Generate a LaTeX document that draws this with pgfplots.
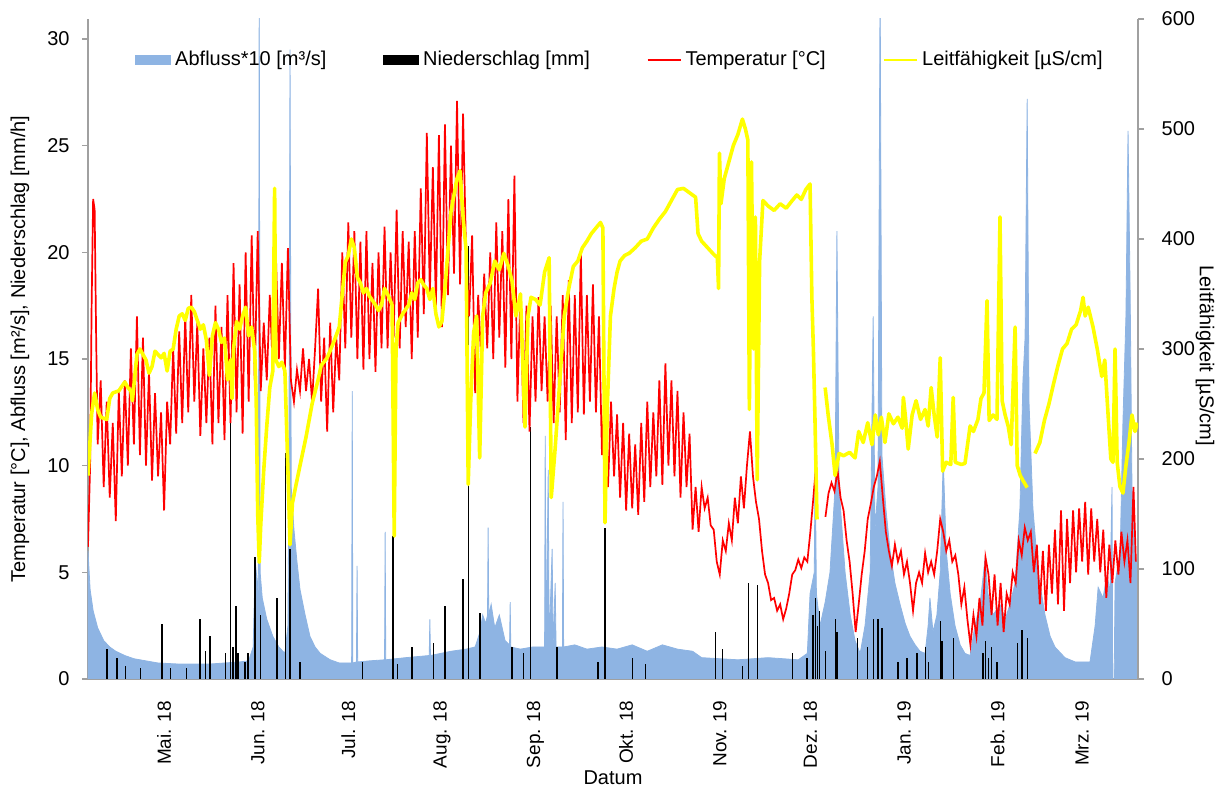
\documentclass[border=0pt]{standalone}
\usepackage{pgfplots}
\pgfplotsset{compat=1.18}
\usepackage{fontspec}
\setmainfont{Liberation Sans}
\definecolor{abfluss}{RGB}{142,180,227}
\definecolor{axisgray}{RGB}{160,160,160}
\definecolor{leit}{RGB}{255,255,0}
\begin{document}
\begin{tikzpicture}[font=\fontsize{10}{12}\selectfont]
\begin{axis}[
  at={(0,0)}, anchor=south west,
  scale only axis, width=525pt, height=330pt,
  xmin=-25.2, xmax=322.5, ymin=0, ymax=30.94,
  axis x line*=bottom, axis y line*=left,
  axis line style={axisgray, line width=0.6pt},
  xtick={0,31,61,92,123,153,184,214,245,276,304},
  xticklabels={Mai. 18, Jun. 18, Jul. 18, Aug. 18, Sep. 18, Okt. 18, Nov. 19, Dez. 18, Jan. 19, Feb. 19, Mrz. 19},
  xtick style={draw=none},
  xticklabel style={rotate=90, anchor=east, font=\fontsize{9.5}{11}\selectfont},
  xticklabel shift=4.4pt,
  ytick={0,5,...,30},
  ytick style={axisgray, line width=0.6pt},
  tick align=outside, major tick length=3pt,
  yticklabel shift=2.7pt,
  /pgf/number format/assume math mode=true,
  every axis y label/.style={at={(axis description cs:0,0.5)}, xshift=-34pt, rotate=90, anchor=center},
  every axis x label/.style={at={(axis description cs:0.5,0)}, yshift=-49.5pt, anchor=center},
  xlabel={Datum},
  ylabel={Temperatur [°C], Abfluss [m²/s], Niederschlag [mm/h]},
  legend columns=4,
  legend cell align=left,
  legend style={draw=none, fill=none, inner sep=0pt, at={(axis description cs:0.0448,0.938)}, anchor=west,
    /tikz/every even column/.append style={column sep=26.5pt}},
  unbounded coords=jump,
]
\addlegendimage{legend image code/.code={\fill[abfluss] (0pt,-2.2pt) rectangle (17.5pt,2.2pt);}}
\addlegendentry{Abfluss*10 [m³/s]}
\addlegendimage{legend image code/.code={\fill[black] (0pt,-2.2pt) rectangle (17.5pt,2.2pt);}}
\addlegendentry{Niederschlag [mm]}
\addlegendimage{legend image code/.code={\draw[red, line width=0.8pt] (0pt,0pt) -- (16.5pt,0pt);}}
\addlegendentry{Temperatur [°C]}
\addlegendimage{legend image code/.code={\draw[leit, line width=1.2pt] (0pt,0pt) -- (16.5pt,0pt);}}
\addlegendentry{Leitfähigkeit [µS/cm]}

% Abfluss*10
\addplot[forget plot, fill=abfluss, draw=abfluss, line width=0.4pt] coordinates {
(-25.2,6.0) (-24.5,4.2) (-23.5,3.2) (-22,2.4) (-20,1.8) (-18,1.5) (-16,1.3) (-13,1.1) (-10,0.95) (-6,0.85) (-2,0.75) (5,0.7) (15,0.7) (25,0.8) (28,0.85) (29.5,1.5) (30.2,5.5) (31.2,4) (31.5,33) (31.8,5) (32.5,3.8) (34,2.8) (36,2) (38,1.5) (40,1.2) (41,2.5) (41.3,8.5) (41.7,29.5) (42.1,9) (43,7) (44,5.5) (45,4.2) (46.7,3) (48.3,2) (50,1.5) (51.7,1.2) (55,0.9) (58,0.75) (62.1,0.75) (62.3,13.5) (62.5,0.75) (63.7,0.8) (63.9,5.3) (64.1,0.8) (68,0.85) (73,0.9) (73.2,6.9) (73.4,0.9) (80,1.0) (87.8,1.1) (88,2.8) (88.2,1.1) (95,1.3) (100,1.4) (103,1.5) (104.6,2.2) (105.5,3) (106.5,2.6) (107.1,3) (107.3,7.1) (107.5,3) (108.3,3.5) (109.5,2.4) (111,3) (112.9,1.8) (114.4,1.6) (114.6,3.6) (114.8,1.5) (118,1.4) (122,1.5) (126,1.5) (126.2,11.4) (126.5,1.6) (127.2,9.8) (127.5,1.6) (128.5,6.1) (128.8,1.5) (129.5,4.5) (129.8,1.5) (131.9,1.5) (132.1,8.3) (132.3,1.5) (136,1.6) (140,1.4) (145,1.5) (150,1.4) (155,1.6) (160,1.3) (165,1.6) (170,1.4) (175,1.3) (178,1.0) (190,0.9) (200,1.0) (210,0.9) (213,1.2) (213.9,4) (215.3,5) (215.6,10.5) (216,4) (217.2,2.5) (218.9,3.6) (220.5,5) (222.2,9) (222.8,21) (223.5,9) (225.5,5) (227.2,3) (228.8,1.8) (230.5,1.2) (232.1,2.5) (233.8,5) (234.8,17) (235.4,7) (236.4,9) (237.1,33) (237.7,10.5) (239,8) (240.4,6) (242,4.5) (243.7,3.5) (245.4,2.6) (247,2) (248.7,1.6) (250.3,1.3) (252,1.2) (253,2.5) (253.6,3.8) (254.6,2.2) (255.9,3) (257,5) (258,10.3) (259,6) (260.3,4) (261.9,2.5) (263.6,1.6) (265.2,1.2) (266.9,1.1) (268.5,2.5) (270.2,3.5) (271.9,5.7) (272.8,4) (274.5,3) (276.8,3.5) (278.5,2.8) (280.1,3.5) (281.8,4.5) (283.4,8) (284.4,14) (285.1,16) (285.8,27.2) (286.4,13) (287.7,8) (289.4,5) (291.7,3) (293.4,2) (295,1.5) (298.3,1) (301.7,0.8) (306.6,0.8) (308.3,2.5) (309.3,4.3) (310.9,3.8) (312.3,4.9) (313.2,4) (313.9,9) (314.1,0) (314.6,0) (314.9,4.5) (316.6,6) (317.5,12) (318.5,17) (319.2,25.7) (319.9,18) (320.5,9) (321.5,6) (322.5,5)
} \closedcycle;

% Niederschlag
\addplot[forget plot, ycomb, black, line width=0.6pt, mark=none] coordinates {
(-18.9,1.4) (-15.6,1.0) (-12.9,0.6) (-7.9,0.5) (-0.7,2.6) (2,0.5) (7.3,0.5) (11.9,2.8) (13.6,1.3) (15.2,2.0) (20.2,1.2) (21.9,12) (22.8,1.5) (23.8,3.4) (24.5,1.2) (26.8,0.8) (27.8,1.2) (30.1,5.7) (31.8,3) (37.4,3.8) (40.1,10.6) (41.7,6.1) (45,0.8) (65.6,0.8) (75.8,6.7) (77.2,0.7) (82.1,1.5) (89.1,1.7) (93,3.4) (99,4.7) (100.7,20.3) (104.6,3.1) (115.2,1.5) (118.9,1.2) (121.2,11.8) (130.1,1.5) (143.7,0.8) (146,7.1) (155,1.0) (159.3,0.7) (182.5,2.2) (184.8,1.4) (191.4,0.6) (193.4,4.5) (196.4,4.4) (208,1.2) (212.9,1.0) (214.9,3.0) (215.6,3.8) (216.3,2.5) (217,3.2) (218.9,1.3) (222.2,2.8) (222.8,2.2) (229.5,1.9) (232.8,1.5) (234.8,2.8) (236.4,2.8) (237.7,2.4) (243,0.8) (246,1.0) (249.3,1.2) (252,1.5) (253,0.8) (257,2.7) (257.6,1.8) (261.3,1.9) (271.2,1.2) (272,1.8) (273,1.0) (274,1.5) (275.8,0.8) (282.5,1.7) (284.1,2.3) (285.8,1.9)
};

% Temperatur
\addplot[forget plot, red, line width=0.85pt, mark=none] coordinates {
(-25.2,6.2) (-24.5,10) (-24,17.5) (-23.5,22.5) (-23,22) (-22.5,16) (-22,11) (-21,14) (-20,9) (-19,13) (-18,8.5) (-17,12) (-16,7.4) (-15,13.5) (-14,9.5) (-13,14) (-12,10) (-11,15.5) (-10,11) (-9,17) (-8,10.5) (-7,16) (-6,10) (-5,14.4) (-4,9.3) (-3,13.4) (-2,9.5) (-1,12.5) (0,7.9) (1,13) (2,11) (3,15.5) (4,11.5) (5,16.3) (6,12) (7,17) (8,12.5) (9,18) (10,13) (11,16.7) (12,11.4) (13,15.5) (14,12) (15,16) (16,11) (17,17.5) (18,12) (19,16.5) (20,11.2) (21,18) (22,12) (23,19.5) (24,12.5) (25,18.5) (26,11.5) (27,20) (28,13) (29,20.8) (30,14) (31,21) (32,13.5) (33,16.7) (34,14) (35,18) (36,14.5) (37,20) (38,15) (39,19.5) (40,14.5) (41,20.2) (42,14) (43,13) (44,14.5) (45,13.5) (46,15.5) (47,13.5) (48,15) (49,13) (50,15.5) (51,18.3) (52,13) (53,16) (54,11.6) (55,16.7) (56,12.5) (57,16) (58,14) (59,20) (60,15.5) (61,21.4) (62,16) (63,21) (64,15) (65,20.5) (66,14.5) (67,21) (68,15) (69,19.5) (70,14.4) (71,20) (72,15.5) (73,21.2) (74,15.5) (75,20) (76,16) (77,22) (78,15.5) (79,21) (80,16.5) (81,20.5) (82,15) (83,21) (84,16) (85,23) (86,17.1) (87,25.6) (88,18) (89,24) (90,17.5) (91,25.5) (92,16.5) (93,26) (94,18) (95,25) (96,19) (97,27.1) (98,18.5) (99,26.5) (100,20) (101,17) (102,20.8) (103,13.4) (104,18) (105,15) (106,19) (107,15.5) (108,20) (109,15) (110,21.4) (111,16) (112,21) (113,14.6) (114,22.5) (115,15) (116,23.6) (117,13) (118,18.1) (119,12) (120,17.5) (121,11.6) (122,17) (123,13) (124,17.9) (125,13.5) (126,17) (127,13) (128,17.5) (129,12) (130,17) (131,12.5) (132,18) (133,11.2) (134,18.7) (135,12) (136,18) (137,12.5) (138,20) (139,12.4) (140,18) (141,13) (142,18.5) (143,12.5) (144,17) (145,10.5) (146,14) (147,9) (148,13) (149,9.5) (150,12.4) (151,8.5) (152,12) (153,7.9) (154,11.5) (155,8) (156,11) (157,7.7) (158,12) (159,8.3) (160,13) (161,9) (162,12.5) (163,9.5) (164,14) (165,9.1) (166,14.8) (167,10) (168,14) (169,9.5) (170,13.5) (171,8.5) (172,12.5) (173,9) (174,11.5) (175,7) (176,9) (177,6.9) (178,9) (179,8) (180,8.5) (181,7.2) (182,7) (183,5.5) (184,4.9) (185,6.5) (186,6) (187,7.3) (188,6.5) (189,8.5) (190,7.3) (191,9.5) (192,8) (193,10) (194,11.6) (195,9.5) (196,8.3) (197,7.5) (198,6) (199,4.9) (200,4.5) (201,3.7) (202,3.8) (203,3.2) (204,3.5) (205,2.8) (206,3.3) (207,4) (208,4.9) (209,5.1) (210,5.6) (211,5.2) (212,5.7) (213,5.5) (214,6.9) (215,8.5) (216,10.2) (216.8,nan) (219,7.6) (220,8.7) (221,9.2) (222,8.8) (223,9.8) (224,8.5) (225,7.9) (226,6.5) (227,5.5) (228,4) (229,2.2) (230,3.5) (231,4.9) (232,6) (233,7.5) (234,8.2) (235,9) (236,9.5) (237,10.2) (238,8.5) (239,6.9) (240,6) (241,5.3) (242,6.3) (243,5.5) (244,6) (245,4.9) (246,5.5) (247,4.5) (248,3.2) (249,4.5) (250,5) (251,4.5) (252,5.9) (253,5) (254,5.5) (255,4.9) (256,6) (257,7.5) (258,6.9) (259,6) (260,6.5) (261,5.5) (262,5.8) (263,4.9) (264,3.5) (265,4.3) (266,2.8) (267,1.6) (268,3) (269,2) (270,3.8) (271,2.5) (272,5.7) (273,4.9) (274,3) (275,4.9) (276,2.5) (277,4.5) (278,2.2) (279,4) (280,3.5) (281,5) (282,4.5) (283,6.5) (284,5.8) (285,7.1) (286,6.5) (287,6.9) (288,5) (289,6.3) (290,3.5) (291,6) (292,3.2) (293,6.3) (294,4) (295,7) (296,3.5) (297,7.9) (298,3.2) (299,7.5) (300,4.5) (301,7.9) (302,5) (303,8) (304,5.5) (305,8.3) (306,4.9) (307,8) (308,5.5) (309,7.5) (310,5) (311,7) (312,3.8) (313,6.3) (314,4.5) (315,6.5) (316,4.9) (317,6.9) (318,5.5) (319,6.5) (320,4.5) (321,9) (321.8,5.5)
};
\end{axis}

\begin{axis}[
  at={(0,0)}, anchor=south west,
  scale only axis, width=525pt, height=330pt,
  xmin=-25.2, xmax=322.5, ymin=0, ymax=600,
  axis x line=none, axis y line*=right,
  axis line style={axisgray, line width=0.6pt},
  ytick={0,100,...,600},
  ytick style={axisgray, line width=0.6pt},
  tick align=outside, major tick length=3pt,
  yticklabel shift=5.3pt,
  /pgf/number format/assume math mode=true,
  every axis y label/.style={at={(axis description cs:1,0.5)}, xshift=33.5pt, yshift=-3.5pt, rotate=-90, anchor=center},
  ylabel={Leitfähigkeit [µS/cm]},
  unbounded coords=jump,
]
\addplot[leit, line width=1.8pt, mark=none, line join=round] coordinates {
(-25.2,185) (-24,241) (-23,260) (-22,245) (-21,238) (-19,236) (-18,255) (-17,260) (-15,262) (-13,270) (-12,265) (-11,262) (-10.5,253) (-9,295) (-8,300) (-6,290) (-5,278) (-4,284) (-3,298) (-1,292) (0,296) (1,280) (2,298) (3,300) (4,318) (5,330) (6,332) (7,326) (8,337) (9,338) (10,334) (11,326) (12,318) (13,322) (14,308) (15,276) (16,312) (17,324) (18,318) (19,306) (20,310) (21,272) (22,290) (22.5,255) (23,300) (24,325) (25,318) (26,330) (27,338) (28,312) (29,320) (30,298) (30.5,253) (31,150) (31.5,106) (32,140) (33,190) (34,230) (35,265) (36,280) (36.6,446) (37,290) (38,284) (39,288) (40,280) (41,190) (41.7,122) (42.5,160) (43.5,174) (45,194) (47,220) (49,250) (51,272) (52,285) (54,292) (56,305) (58,320) (59,350) (60,379) (61,385) (62,400) (63,392) (64,365) (65,360) (66,351) (67,355) (68,348) (70,340) (71,335) (72,340) (73,355) (74,350) (75.5,340) (76.2,130) (76.8,300) (77.5,324) (79,332) (81,340) (82,351) (83,345) (84,360) (85,363) (86,358) (87,355) (88,345) (89,355) (90,332) (91,320) (92,325) (93,355) (94,390) (95,425) (96,440) (97,455) (98,462) (99,420) (100,390) (100.7,177) (101.5,250) (102.5,315) (103.5,330) (104.5,201) (105.5,330) (106.5,351) (108,360) (109.5,380) (111,372) (112.5,387) (114,375) (115.2,362) (116.5,330) (118,350) (119.5,229) (120.5,330) (121.5,347) (123,345) (124.5,340) (126,370) (127.5,383) (128.2,165) (129.5,210) (131,270) (132.5,330) (134,355) (135.5,375) (137,380) (138.5,392) (140,398) (141.5,405) (143,410) (144.5,415) (145.3,410) (146,142) (146.8,250) (147.8,330) (149,355) (150,370) (151,380) (152.5,385) (154,387) (156,392) (158,398) (160,400) (162,410) (164,418) (166,425) (168,435) (170,445) (172,446) (174,442) (176,438) (176.8,405) (178,398) (180,392) (182,386) (183.2,383) (183.6,355) (183.9,478) (184.4,432) (185.5,455) (187,470) (188.5,485) (190,495) (191.5,509) (192.5,500) (193.3,490) (193.8,245) (194.5,470) (195.2,300) (195.8,420) (196.4,181) (197.2,380) (198.3,435) (200,430) (202,426) (204,432) (206,428) (208,435) (209.5,440) (211,436) (212.5,445) (213.9,450) (214.5,347) (215,300) (215.5,240) (216.2,145) (216.7,nan) (218.9,265) (219.9,240) (221.2,213) (222.2,185) (223.5,205) (225,203) (227,206) (228.8,201) (230,225) (231.5,215) (233,233) (234.4,213) (235.5,240) (236.5,222) (237.5,238) (238.7,215) (240,241) (241.5,232) (243,238) (244.4,228) (244.8,256) (245.5,238) (246.4,209) (247.7,240) (249,253) (250.5,236) (252,245) (253,230) (254,265) (255,240) (256,220) (257,292) (257.8,189) (259,197) (260.5,195) (261.3,256) (262,197) (264,195) (265.2,196) (266.9,230) (268,225) (269.5,236) (270.5,255) (271.5,260) (272.5,344) (273.2,235) (274.5,240) (275.8,236) (276.8,420) (277.5,253) (278.5,240) (279.5,230) (280.5,213) (281.8,320) (282.5,194) (283.5,185) (284.5,180) (285.8,174) (286,nan) (288.4,205) (290,215) (291.5,235) (293,250) (294.5,268) (296,285) (297.5,300) (299,305) (300.5,318) (302,322) (303.5,335) (304.3,347) (305,330) (306,338) (307.6,320) (309,300) (310.5,275) (311.5,290) (312.3,253) (313.5,200) (314.2,197) (314.9,300) (315.6,197) (316.5,175) (317.5,169) (318.5,194) (319.5,215) (320.5,240) (321.5,225) (322.3,233)
};
\end{axis}
\pgfresetboundingbox
\path[use as bounding box] (-44pt,-55.5pt) rectangle (568pt,339.5pt);
\end{tikzpicture}
\end{document}
